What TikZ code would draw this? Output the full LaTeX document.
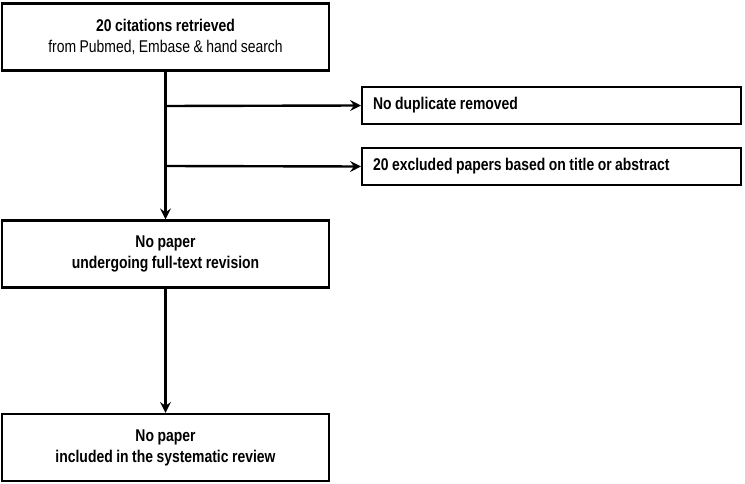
\documentclass[tikz,border=0pt]{standalone}
\usepackage{fontspec}
\setmainfont{Liberation Sans}[FakeStretch=0.82,WordSpace=0.9]
\usetikzlibrary{arrows.meta}
\newcommand{\sidetext}[1]{\makebox[357pt][l]{#1}}
\begin{document}
\begin{tikzpicture}[x=1pt,y=-1pt,
  box/.style={draw,line width=2.2pt,inner sep=0pt},
  mainbox/.style={box,minimum width=327pt,minimum height=67pt,align=center},
  sidebox/.style={box,minimum height=37pt,anchor=west,inner xsep=11pt},
  conn/.style={line width=2.4pt,-{Stealth[length=11pt,width=11pt,inset=4pt]}},
  every node/.style={font=\fontsize{17}{21}\selectfont}]
\useasboundingbox (0,0) rectangle (745,484);
\node[mainbox] (a) at (165.5,37) {\textbf{20 citations retrieved}\\from Pubmed, Embase \& hand search};
\node[sidebox] (d) at (361,105.5) {\sidetext{\textbf{No duplicate removed}}};
\node[sidebox] (e) at (361,166.5) {\sidetext{\textbf{20 excluded papers based on title or abstract}}};
\node[mainbox] (b) at (165.5,254) {\textbf{No paper}\\\textbf{undergoing full-text revision}};
\node[mainbox] (c) at (165.5,447.5) {\textbf{No paper}\\\textbf{included in the systematic review}};
\coordinate (j1) at (165.5,106);
\coordinate (j2) at (165.5,166);
\draw[conn] (a.south) -- (b.north);
\draw[conn] (j1) -- (d.west);
\draw[conn] (j2) -- (e.west);
\draw[conn] (b.south) -- (c.north);
\end{tikzpicture}
\end{document}
